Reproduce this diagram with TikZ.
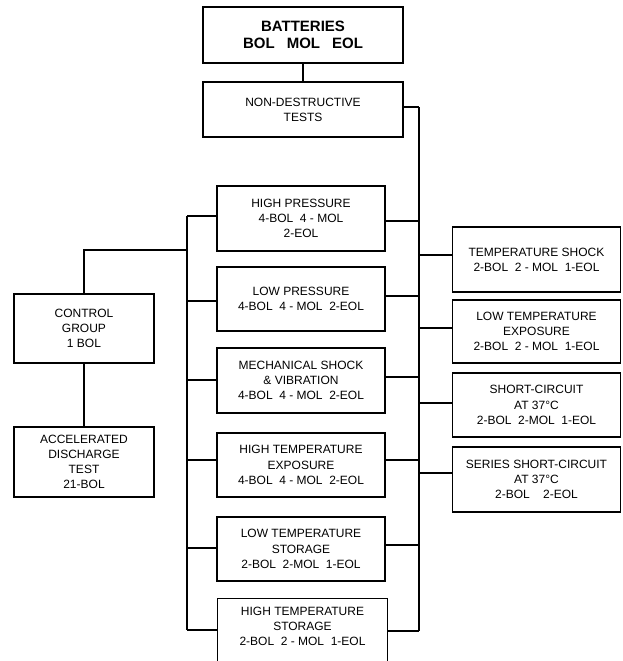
\documentclass[tikz,border=0pt]{standalone}
\usepackage{fontspec}
\setmainfont{Liberation Sans}
\newcommand\bgap{\hspace{0.55em}}
\begin{document}
\begin{tikzpicture}[x=1pt,y=-1pt,line width=1.3pt,
  box/.style={draw,rectangle,line width=1.3pt,align=center,inner sep=0pt,
    font=\fontsize{12}{15.2}\selectfont},
  midbox/.style={box,minimum width=168,minimum height=64},
  sidebox/.style={box,minimum width=168,minimum height=64},
  leftbox/.style={box,minimum width=140,minimum height=69},
  conn/.style={line width=1.3pt}]
\useasboundingbox (0,0) rectangle (622,661);
\fill[white] (0,0) rectangle (622,661);
\clip (0,0) rectangle (622,661);

% top
\node[box,line width=2.8pt,minimum width=200,minimum height=56,
  font=\bfseries\fontsize{15}{17}\selectfont] (BAT) at (303,35)
  {BATTERIES\\BOL\hspace{0.8em}MOL\hspace{0.8em}EOL};
\node[box,minimum width=200,minimum height=55] (ND) at (303,109.5)
  {NON-DESTRUCTIVE\\TESTS};

% middle column
\node[midbox,minimum height=65] (HP) at (301,218.5)
  {HIGH PRESSURE\\4-BOL\bgap 4 - MOL\\2-EOL};
\node[midbox] (LP) at (301,299)
  {LOW PRESSURE\\4-BOL\bgap 4 - MOL\bgap 2-EOL};
\node[midbox,minimum height=65] (MS) at (301,380.5)
  {MECHANICAL SHOCK\\\& VIBRATION\\4-BOL\bgap 4 - MOL\bgap 2-EOL};
\node[midbox] (HTE) at (301,465)
  {HIGH TEMPERATURE\\EXPOSURE\\4-BOL\bgap 4 - MOL\bgap 2-EOL};
\node[midbox] (LTS) at (301,549)
  {LOW TEMPERATURE\\STORAGE\\2-BOL\bgap 2-MOL\bgap 1-EOL};
\node[box,draw=none,minimum width=169,minimum height=55] (HTS) at (302.5,626.5)
  {HIGH TEMPERATURE\\STORAGE\\2-BOL\bgap 2 - MOL\bgap 1-EOL};
\draw[conn] (HTS.north west) ++(0,80) -- (HTS.north west) -- (HTS.north east) -- ++(0,80);

% left column
\node[leftbox] (CG) at (84,328.5) {CONTROL\\GROUP\\1 BOL};
\node[leftbox,minimum height=70] (AD) at (84,462)
  {ACCELERATED\\DISCHARGE\\TEST\\21-BOL};

% right column
\node[sidebox,minimum height=65] (TS) at (536.5,259.5)
  {TEMPERATURE SHOCK\\2-BOL\bgap 2 - MOL\bgap 1-EOL};
\node[sidebox,minimum height=63] (LTE) at (536.5,331.5)
  {LOW TEMPERATURE\\EXPOSURE\\2-BOL\bgap 2 - MOL\bgap 1-EOL};
\node[sidebox] (SC) at (536.5,405)
  {SHORT-CIRCUIT\\AT 37°C\\2-BOL\bgap 2-MOL\bgap 1-EOL};
\node[sidebox,minimum height=65] (SSC) at (536.5,479.5)
  {SERIES SHORT-CIRCUIT\\AT 37°C\\2-BOL\bgap\bgap 2-EOL};

% trunks
\coordinate (LTtop) at (187,216);
\coordinate (LTbot) at (187,630);
\coordinate (RTtop) at (419,107);
\coordinate (RTbot) at (419,631);
\draw[conn] (LTtop) -- (LTbot);
\draw[conn] (RTtop) -- (RTbot);

% top connectors
\draw[conn] (BAT.south) -- (ND.north);
\draw[conn] (ND.east |- RTtop) -- (RTtop);

% left trunk to middle boxes
\draw[conn] (HP.west |- LTtop) -- (LTtop);
\draw[conn] (LP.west |- 0,301) -- (LTtop |- 0,301);
\draw[conn] (MS.west |- 0,380) -- (LTtop |- 0,380);
\draw[conn] (HTE.west |- 0,460) -- (LTtop |- 0,460);
\draw[conn] (LTS.west |- 0,548) -- (LTtop |- 0,548);
\draw[conn] (HTS.west |- LTbot) -- (LTbot);

% right trunk to middle boxes
\draw[conn] (HP.east |- 0,221) -- (RTtop |- 0,221);
\draw[conn] (LP.east |- 0,296) -- (RTtop |- 0,296);
\draw[conn] (MS.east |- 0,377) -- (RTtop |- 0,377);
\draw[conn] (HTE.east |- 0,460) -- (RTtop |- 0,460);
\draw[conn] (LTS.east |- 0,545) -- (RTtop |- 0,545);
\draw[conn] (HTS.east |- RTbot) -- (RTbot);

% right trunk to side boxes
\draw[conn] (RTtop |- 0,255) -- (TS.west |- 0,255);
\draw[conn] (RTtop |- 0,328) -- (LTE.west |- 0,328);
\draw[conn] (RTtop |- 0,403) -- (SC.west |- 0,403);
\draw[conn] (RTtop |- 0,473) -- (SSC.west |- 0,473);

% control group
\draw[conn] (CG.north) |- (LTtop |- 0,250);
\draw[conn] (CG.south) -- (AD.north);
\end{tikzpicture}
\end{document}
